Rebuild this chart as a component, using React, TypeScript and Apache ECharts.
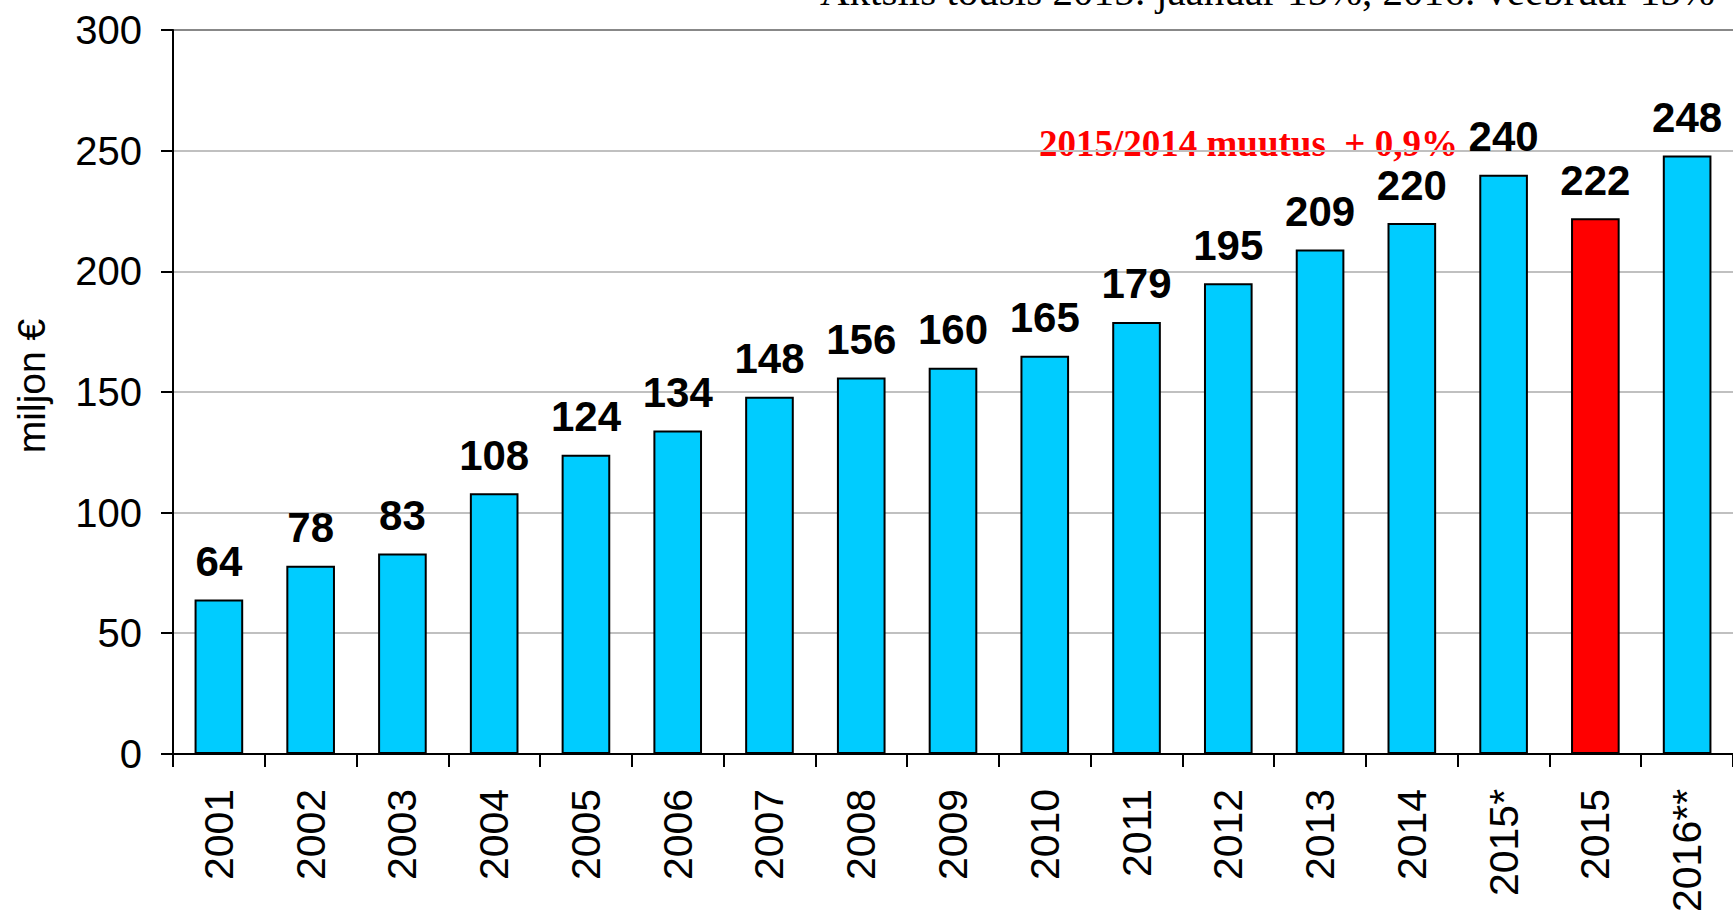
import React, { useEffect, useRef } from "react";
import * as echarts from "echarts";

const categories = ["2001", "2002", "2003", "2004", "2005", "2006", "2007", "2008", "2009", "2010", "2011", "2012", "2013", "2014", "2015*", "2015", "2016**"];
const values = [64, 78, 83, 108, 124, 134, 148, 156, 160, 165, 179, 195, 209, 220, 240, 222, 248];
const highlightCategory = "2015";
const titleText = "Aktsiis tõusis 2015: jaanuar 15%, 2016: veebruar 15%";
const noteText = "2015/2014 muutus  + 0,9%";
const yAxisName = "miljon €";

const SANS = "'Liberation Sans', Arial, sans-serif";
const SERIF = "'Liberation Serif', 'Times New Roman', serif";

export default function App() {
  const ref = useRef<HTMLDivElement>(null);
  useEffect(() => {
    if (!ref.current) return;
    const chart = echarts.init(ref.current, undefined, { renderer: "svg" });
    chart.setOption({
      animation: false,
      backgroundColor: "#ffffff",
      grid: { left: 173, right: -16, top: 30, bottom: 155, containLabel: false },
      xAxis: {
        type: "category",
        data: categories,
        axisLine: { lineStyle: { color: "#000", width: 2 } },
        axisTick: { show: true, length: 13, lineStyle: { color: "#000", width: 2 } },
        axisLabel: { rotate: 90, margin: 35, fontSize: 41, color: "#000", fontFamily: SANS },
      },
      yAxis: {
        type: "value",
        min: 0,
        max: 300,
        interval: 50,
        name: yAxisName,
        nameLocation: "middle",
        nameRotate: 90,
        nameGap: 122,
        nameTextStyle: { fontSize: 39, color: "#000", fontFamily: SANS, padding: [0, 0, 0, 12] },
        axisLine: { show: true, lineStyle: { color: "#000", width: 2 } },
        axisTick: { show: true, length: 12, lineStyle: { color: "#000", width: 2 } },
        axisLabel: { margin: 31, fontSize: 40, color: "#000", fontFamily: SANS },
        splitLine: {
          show: true,
          lineStyle: { color: ["#c0c0c0", "#c0c0c0", "#c0c0c0", "#c0c0c0", "#c0c0c0", "#c0c0c0", "#888888"], width: 2 },
        },
      },
      series: [
        {
          type: "bar",
          barCategoryGap: "47%",
          data: values.map((v, i) => ({
            value: v,
            itemStyle: { color: categories[i] === highlightCategory ? "#ff0000" : "#00ccff" },
          })),
          itemStyle: { borderColor: "#000", borderWidth: 2 },
          label: {
            show: true,
            position: "top",
            distance: 17,
            fontSize: 42,
            fontWeight: "bold",
            color: "#000",
            fontFamily: SANS,
          },
        },
      ],
      graphic: [
        {
          type: "text",
          left: 820,
          top: -30,
          style: { text: titleText, fontSize: 41, fill: "#000", fontFamily: SERIF },
        },
        {
          type: "text",
          left: 1039,
          top: 125,
          style: { text: noteText, fontSize: 37, fontWeight: "bold", fill: "#ff0000", fontFamily: SERIF },
        },
      ],
    });
    return () => chart.dispose();
  }, []);
  return <div ref={ref} style={{ position: "fixed", left: 0, top: 0, width: 1733, height: 915 }} />;
}
